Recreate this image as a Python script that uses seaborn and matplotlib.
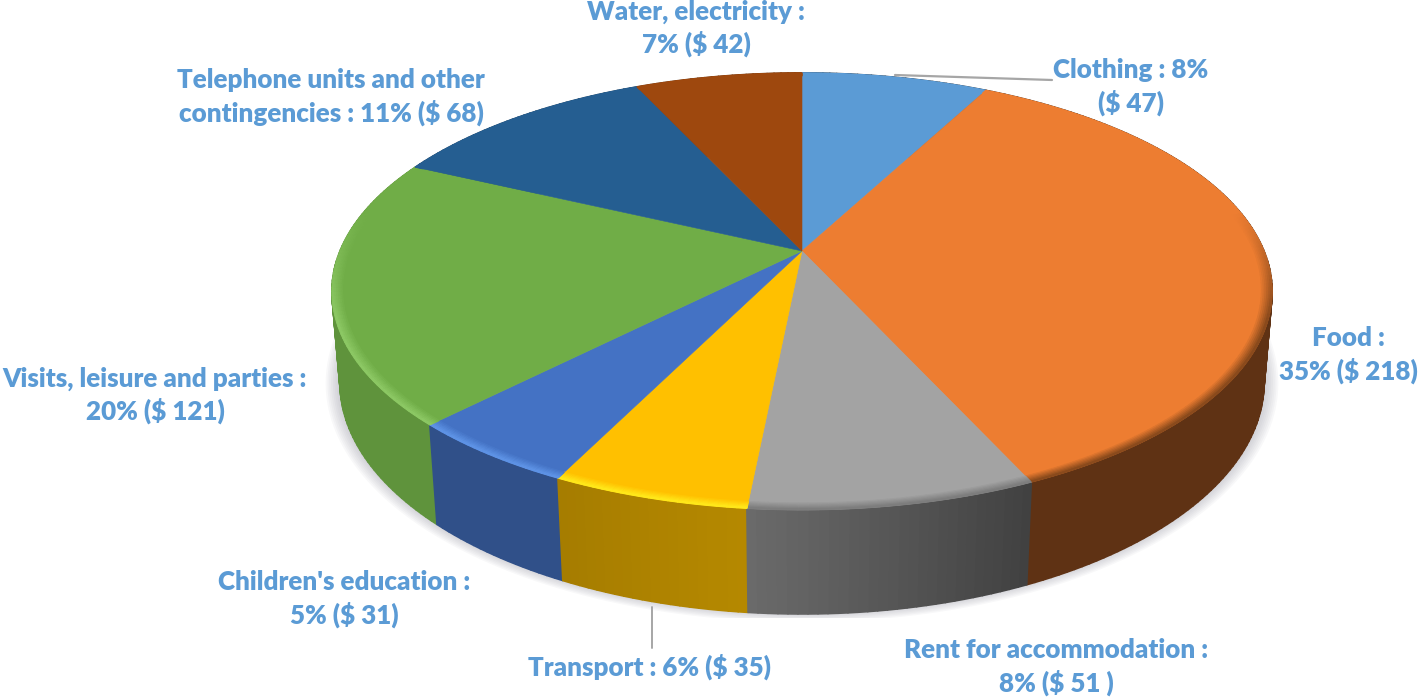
import matplotlib
matplotlib.use('Agg')
import matplotlib.pyplot as plt
from matplotlib.collections import PolyCollection
from matplotlib.colors import to_rgb
from matplotlib.patches import Rectangle
import numpy as np
import seaborn as sns

# Data, clockwise from 12 o'clock
categories = ['Clothing', 'Food', 'Rent for accommodation', 'Transport',
              "Children's education", 'Visits, leisure and parties',
              'Telephone units and other contingencies', 'Water, electricity']
amounts = [47, 218, 51, 35, 31, 121, 68, 42]
label_texts = ['Clothing : 8%\n($ 47)', 'Food :\n35% ($ 218)',
               'Rent for accommodation :\n8% ($ 51 )', 'Transport : 6% ($ 35)',
               "Children's education :\n5% ($ 31)",
               'Visits, leisure and parties :\n20% ($ 121)',
               'Telephone units and other\ncontingencies : 11% ($ 68)',
               'Water, electricity :\n7% ($ 42)']
slice_colors = ['#5b9bd5', '#ed7d31', '#a3a3a3', '#ffc000',
                '#4472c4', '#70ad47', '#255e91', '#9e480e']

# Look of the 3D effect, one entry per slice
wall_shade = [(.40, .40), (.40, .40), (.40, .65), (.71, .65),
              (.70, .70), (.85, .85), (.70, .70), (.70, .70)]
rim_colors = ['#5b9bd5', '#8a4a1c', '#7d7d7d', '#ffe81a',
              '#5e93e6', '#8cc864', '#255e91', '#9e480e']
label_spots = [(1131, 87), (1348, 355), (1056, 667), (650, 667),
               (344, 599), (155, 395), (331, 97), (696, 28)]

# Projection of the flat disc onto the picture
CX, CY = 802, 251
A, B, K = 462, 211, 0.185
DROP, SHRINK = 91, 0.017


def project(u, v, bottom=False):
    extra = SHRINK if bottom else 0
    lift = DROP if bottom else 0
    d = 1 - K * v + extra
    return CX + A * u / d, CY + (B * v + lift) / d


def rim_point(theta, r=1.0, bottom=False):
    return project(r * np.sin(theta), -r * np.cos(theta), bottom)


sns.set_theme(style='white')
plt.rcParams['font.family'] = ['Lato', 'DejaVu Sans']
palette = sns.color_palette(slice_colors)

fig = plt.figure(figsize=(14.18, 6.97), dpi=100)
ax = fig.add_axes([0, 0, 1, 1])
ax.set_xlim(0, 1418)
ax.set_ylim(697, 0)
ax.axis('off')

shares = np.array(amounts) / sum(amounts)
edges = np.concatenate([[0], np.cumsum(shares)]) * 2 * np.pi

# soft shadow under the pie
clip = Rectangle((0, 0), 1418, 618, transform=ax.transData)
circle = np.linspace(0, 2 * np.pi, 300)
for grow in np.linspace(1.03, 1.0, 9):
    xs, ys = rim_point(circle, grow, bottom=True)
    shadow = ax.fill(xs, ys - 2, color='#8f8f9c', alpha=0.06, lw=0, zorder=1)[0]
    shadow.set_clip_path(clip)

# outer wall, back to front
quads, quad_colors, depth = [], [], []
for i in range(len(amounts)):
    steps = max(2, int(np.degrees(edges[i + 1] - edges[i])))
    th = np.linspace(edges[i], edges[i + 1], steps + 1)
    shade = np.linspace(wall_shade[i][0], wall_shade[i][1], steps)
    for j in range(steps):
        x1, y1 = rim_point(th[j])
        x2, y2 = rim_point(th[j + 1])
        x3, y3 = rim_point(th[j + 1], bottom=True)
        x4, y4 = rim_point(th[j], bottom=True)
        quads.append([(x1, y1), (x2, y2), (x3, y3), (x4, y4)])
        quad_colors.append(tuple(np.array(palette[i]) * shade[j]))
        depth.append(-np.cos(th[j]))
order = np.argsort(depth)
ax.add_collection(PolyCollection([quads[n] for n in order],
                                 facecolors=[quad_colors[n] for n in order],
                                 edgecolors='face', linewidths=1.2, zorder=2))

# top face
for i in range(len(amounts)):
    th = np.linspace(edges[i], edges[i + 1], 200)
    xs, ys = rim_point(th)
    ax.fill(np.r_[CX, xs], np.r_[CY, ys], color=palette[i], lw=0.4, zorder=3)

# bevel along the front of the top face
radii = np.linspace(0.978, 1.0, 7)
for i in range(len(amounts)):
    steps = max(2, int(np.degrees(edges[i + 1] - edges[i])))
    th = np.linspace(edges[i], edges[i + 1], steps + 1)
    rim = np.array(to_rgb(rim_colors[i]))
    base = np.array(palette[i])
    verts, cols = [], []
    for j in range(steps):
        front = np.clip((-np.cos(th[j]) + 0.2) / 0.5, 0, 1)
        for k in range(len(radii) - 1):
            mix = front * (k + 1) / (len(radii) - 1)
            verts.append([rim_point(th[j], radii[k]), rim_point(th[j + 1], radii[k]),
                          rim_point(th[j + 1], radii[k + 1]), rim_point(th[j], radii[k + 1])])
            cols.append(tuple(base + (rim - base) * mix))
    ax.add_collection(PolyCollection(verts, facecolors=cols, edgecolors='face',
                                     linewidths=0.8, zorder=4))

# leader lines
ax.plot([895, 1052], [75, 80], color='#a6a6a6', lw=1.6, zorder=5)
ax.plot([652, 652], [607, 648], color='#a6a6a6', lw=1.4, zorder=5)

for text, (lx, ly) in zip(label_texts, label_spots):
    ax.text(lx, ly, text, color='#5b9bd5', fontsize=18.7, fontweight='heavy',
            ha='center', va='center', linespacing=1.31, zorder=6)

fig.savefig('out.png', dpi=100)
